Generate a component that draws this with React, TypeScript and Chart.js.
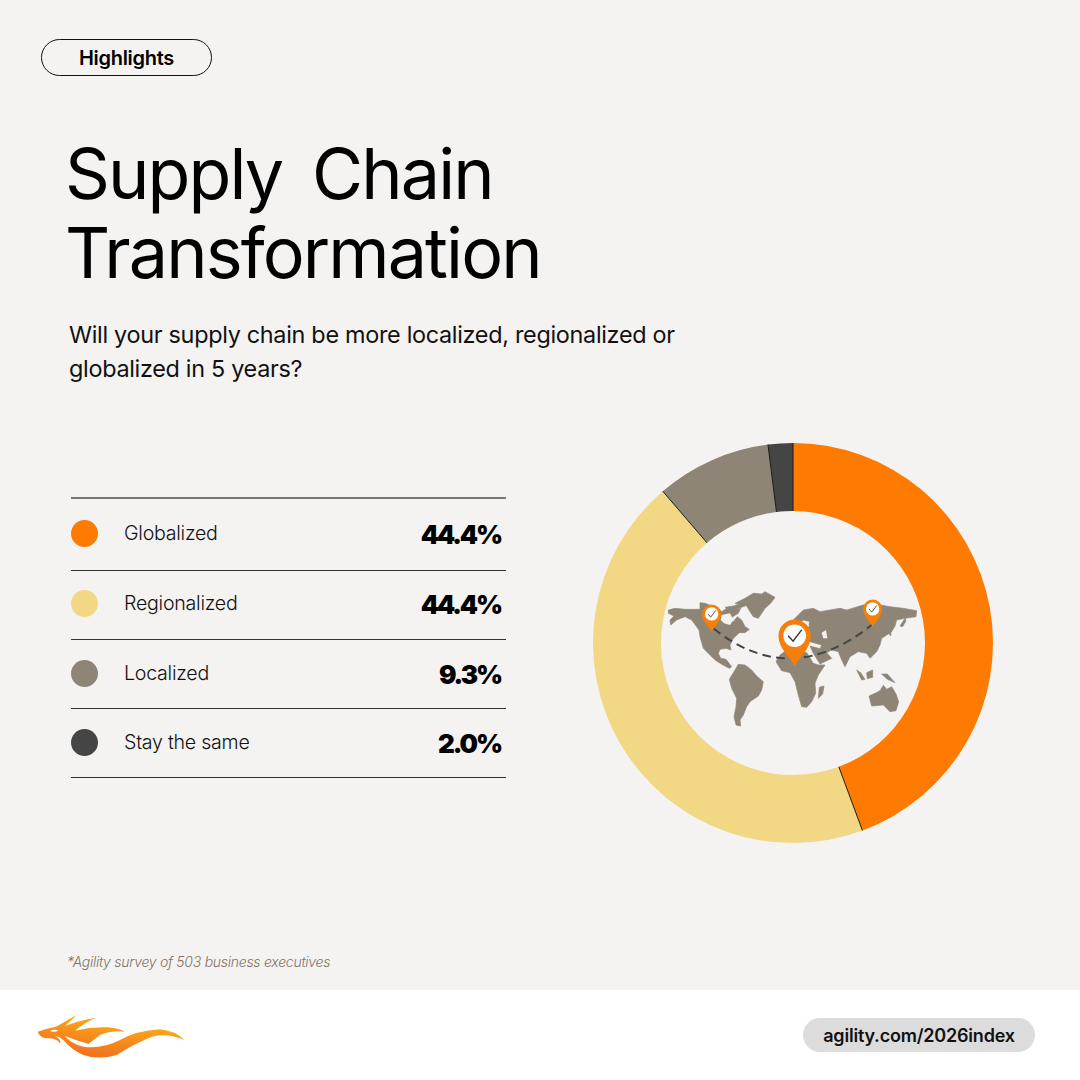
import React, { useEffect, useRef } from "react";
import { Chart, registerables } from "chart.js";

Chart.register(...registerables);

const categories = ["Globalized", "Regionalized", "Localized", "Stay the same"];
const shareValues = [44.4, 44.4, 9.3, 2.0];
const valueLabels = ["44.4%", "44.4%", "9.3%", "2.0%"];
const sliceColors = ["#ff7a00", "#f2d785", "#8f8577", "#454545"];
const rowCentres = [534, 604, 674, 743];
const ruleRows = [498, 570, 639, 708, 777];

const FONT = "Inter, sans-serif";

const separators = {
  id: "separators",
  afterDatasetsDraw(chart: any) {
    const ctx = chart.ctx;
    const arcs = chart.getDatasetMeta(0).data;
    ctx.save();
    ctx.strokeStyle = "#1a1a1a";
    ctx.lineWidth = 1;
    arcs.forEach((a: any) => {
      const p = a.getProps(["x", "y", "startAngle", "innerRadius", "outerRadius"], true);
      ctx.beginPath();
      ctx.moveTo(p.x + Math.cos(p.startAngle) * p.innerRadius, p.y + Math.sin(p.startAngle) * p.innerRadius);
      ctx.lineTo(p.x + Math.cos(p.startAngle) * p.outerRadius, p.y + Math.sin(p.startAngle) * p.outerRadius);
      ctx.stroke();
    });
    ctx.restore();
  },
};

const abs = (left: number, top: number, extra: React.CSSProperties = {}): React.CSSProperties => ({
  position: "absolute",
  left,
  top,
  ...extra,
});

const landShapes = [
  "M55,120 L75,115 L105,118 L150,118 L150,98 L165,100 L205,115 L215,125 L235,112 L255,118 L272,115 L265,130 L248,140 L240,150 L250,155 L262,140 L275,150 L285,170 L298,178 L285,188 L268,188 L250,205 L240,225 L243,240 L228,235 L210,238 L205,250 L212,265 L228,268 L245,290 L238,295 L215,283 L195,270 L175,250 L160,235 L150,200 L147,180 L125,150 L105,140 L80,150 L62,165 L60,150 L72,138 L55,130 Z",
  "M225,112 L250,108 L275,100 L285,108 L262,116 L235,120 Z",
  "M255,100 L285,85 L310,70 L335,72 L345,65 L375,82 L362,100 L345,115 L325,145 L310,140 L300,125 L290,108 Z",
  "M238,328 L255,300 L265,283 L285,285 L305,300 L320,318 L340,335 L335,360 L325,378 L300,395 L290,410 L280,435 L270,450 L272,468 L258,465 L252,440 L258,410 L260,385 L245,355 Z",
  "M378,275 L390,255 L410,240 L440,240 L470,248 L490,280 L505,285 L525,285 L505,315 L495,340 L497,370 L485,395 L470,412 L455,410 L445,375 L435,335 L420,308 L395,302 Z",
  "M430,150 L460,120 L490,115 L510,125 L570,115 L590,120 L640,105 L665,100 L720,110 L760,115 L800,122 L798,140 L765,145 L740,150 L735,168 L725,185 L695,205 L690,225 L680,245 L660,265 L650,250 L625,245 L600,260 L585,290 L575,270 L565,245 L545,240 L530,248 L545,265 L510,282 L490,250 L480,228 L510,236 L515,225 L480,215 L430,210 L450,190 L470,180 L480,155 L460,150 L445,165 Z",
  "M505,385 L508,352 L522,348 L518,372 Z",
  "M657,378 L675,370 L690,362 L700,346 L710,358 L725,350 L738,372 L746,395 L738,422 L720,425 L700,405 L665,408 Z",
  "M620,300 L632,308 L645,328 L635,330 Z",
  "M650,308 L668,300 L668,322 L652,326 Z",
  "M695,312 L712,312 L735,338 L712,328 Z",
  "M750,168 L765,145 L768,152 L758,170 Z",
  "M714,170 L724,172 L722,198 L716,190 Z",
  "M418,165 L428,158 L432,178 L420,182 Z",
];
const waterShapes = [
  "M215,135 L240,130 L250,150 L240,165 L222,160 L212,150 Z",
  "M515,188 L528,180 L532,205 L520,205 Z",
  "M445,170 L470,155 L478,168 L455,185 Z",
];

function Pin({ x, y, s }: { x: number; y: number; s: number }) {
  return (
    <g transform={`translate(${x},${y}) scale(${s})`}>
      <path d="M0,0 C-8,-16 -30,-32 -30,-56 A30,30 0 1 1 30,-56 C30,-32 8,-16 0,0 Z" fill="#f57f0a" />
      <circle cx={0} cy={-56} r={21} fill="#fff" />
      <path d="M-12,-56 L-3,-46 L13,-67" fill="none" stroke="#333" strokeWidth={2.6} />
    </g>
  );
}

export default function App() {
  const canvasRef = useRef<HTMLCanvasElement>(null);

  useEffect(() => {
    document.body.style.margin = "0";
    const chart = new Chart(canvasRef.current!, {
      type: "doughnut",
      data: {
        labels: categories,
        datasets: [
          {
            data: shareValues,
            backgroundColor: sliceColors,
            borderWidth: 0,
          },
        ],
      },
      options: {
        responsive: false,
        animation: false,
        cutout: "66%",
        layout: { padding: 0 },
        plugins: { legend: { display: false }, tooltip: { enabled: false } },
      },
      plugins: [separators],
    });
    return () => chart.destroy();
  }, []);

  return (
    <div style={{ position: "absolute", left: 0, top: 0, width: 1080, height: 1080, background: "#f4f3f1", overflow: "hidden", fontFamily: FONT, color: "#000" }}>
      <div style={abs(41, 39, { width: 169, height: 35, border: "1px solid #111", borderRadius: 19, textAlign: "center", lineHeight: "37px", fontSize: 20, fontWeight: 600, letterSpacing: -0.3 })}>
        Highlights
      </div>
      <div style={abs(65, 134, { fontSize: 70, lineHeight: "79px", fontWeight: 400, letterSpacing: -1.9, wordSpacing: 12, whiteSpace: "nowrap" })}>
        Supply Chain
        <br />
        Transformation
      </div>
      <div style={abs(69, 318, { fontSize: 23.4, lineHeight: "34px", fontWeight: 400, letterSpacing: -0.3, whiteSpace: "nowrap", color: "#111" })}>
        Will your supply chain be more localized, regionalized or
        <br />
        globalized in 5 years?
      </div>

      {ruleRows.map((y, i) => (
        <div key={y} style={abs(71, y - (i === 0 ? 1 : 0), { width: 434.5, height: i === 0 ? 2 : 1, background: i === 0 ? "#77777a" : "#333" })} />
      ))}
      {categories.map((c, i) => (
        <React.Fragment key={c}>
          <div style={abs(71, rowCentres[i] - 14, { width: 27, height: 27, borderRadius: "50%", background: sliceColors[i] })} />
          <div style={abs(124, rowCentres[i] - 15, { fontSize: 19.6, lineHeight: "28px", fontWeight: 300, letterSpacing: -0.25, color: "#111", whiteSpace: "nowrap" })}>{c}</div>
          <div style={abs(341, rowCentres[i] - 16, { width: 160, textAlign: "right", fontSize: 26, lineHeight: "34px", fontWeight: 900, letterSpacing: -2.1 })}>{valueLabels[i]}</div>
        </React.Fragment>
      ))}

      <canvas ref={canvasRef} width={400} height={400} style={abs(593, 443, { width: 400, height: 400 })} />

      <svg viewBox="0 0 870 510" width={290} height={170} style={abs(650, 570)}>
        {landShapes.map((d, i) => (
          <path key={i} d={d} fill="#8f8577" stroke="#8f8577" strokeWidth={2} strokeLinejoin="round" />
        ))}
        {waterShapes.map((d, i) => (
          <path key={i} d={d} fill="#f4f3f1" />
        ))}
        <path d="M190,175 Q420,360 665,165" fill="none" stroke="#444" strokeWidth={6} strokeDasharray="26 16" />
        <Pin x={185} y={185} s={0.95} />
        <Pin x={668} y={170} s={0.95} />
        <Pin x={434} y={288} s={1.62} />
      </svg>

      <div style={abs(67, 952, { fontSize: 14, lineHeight: "20px", fontStyle: "italic", fontWeight: 300, letterSpacing: -0.27, color: "#7d7468" })}>
        *Agility survey of 503 business executives
      </div>

      <div style={abs(0, 990, { width: 1080, height: 90, background: "#fff" })} />
      <svg viewBox="0 0 600 270" width={200} height={90} style={abs(20, 990)}>
        <defs>
          <linearGradient id="flame" x1="0.25" y1="1" x2="0.75" y2="0">
            <stop offset="0" stopColor="#f26a21" />
            <stop offset="1" stopColor="#fdb913" />
          </linearGradient>
        </defs>
        <path
          fill="url(#flame)"
          d="M53,125 Q80,115 108,110 Q135,95 170,75 Q150,95 135,108 Q180,90 228,83 Q190,100 165,122 Q215,110 265,112 Q295,115 315,125 Q275,120 240,135 Q220,150 205,162 Q165,150 135,138 Q150,160 190,170 Q245,178 300,150 Q350,122 420,118 Q465,122 493,150 Q445,128 395,140 Q345,160 290,195 Q235,210 190,195 Q155,180 130,150 Q120,140 105,138 Q125,150 120,160 Q110,145 85,145 Q60,145 53,125 Z"
        />
        <path d="M90,123 Q102,116 115,122 Q102,128 90,123 Z" fill="#fff" />
      </svg>
      <div style={abs(803, 1018, { width: 232, height: 34, borderRadius: 17, background: "#dcdcdc", textAlign: "center", lineHeight: "35px", fontSize: 18, fontWeight: 600, letterSpacing: -0.2, color: "#111" })}>
        agility.com/2026index
      </div>
    </div>
  );
}
